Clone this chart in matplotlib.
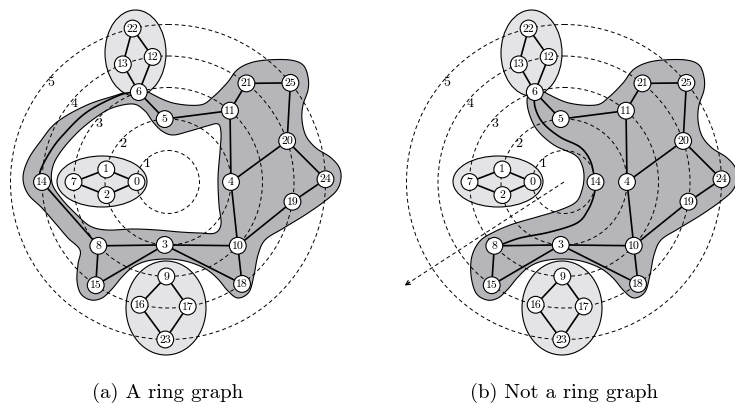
import numpy as np
import matplotlib
matplotlib.use("Agg")
import matplotlib.pyplot as plt
from matplotlib.patches import Circle, Ellipse, PathPatch
from matplotlib.path import Path

W, H = 735, 418

# ---------------- data ----------------
ring_levels = [1, 2, 3, 4, 5]
ring_radius = 31.5
panel_centers = {"a": (168.0, 182.0), "b": (564.0, 182.0)}
captions = {"a": "(a) A ring graph", "b": "(b) Not a ring graph"}

# node -> (ring, angle in degrees, counter-clockwise from east)
node_ring = [1, 2, 2, 2, 2, 2, 3, 3, 3, 3, 3, 3, 4, 4, 4, 4, 4, 4, 4, 4, 4, 4, 5, 5, 5, 5]
node_angle = [180, 168.5, 192, 267, 0, 93, 108, 180, 222.5, 269, 317.6, 49, 97, 111,
              180, 235, 257, 279, 306, 351, 19, 51.5, 103, 269, 1, 39]
# in panel (b) node 14 sits on ring 1
panel_b_override = {14: (1, 0.0)}

straight_edges = [(22, 13), (22, 12), (13, 6), (12, 6), (6, 5), (5, 11), (11, 21), (21, 25),
                  (25, 20), (20, 4), (20, 24), (24, 19), (19, 10), (11, 4), (4, 10), (10, 3),
                  (10, 18), (3, 8), (3, 18), (3, 15), (8, 15), (7, 1), (7, 2), (1, 0), (2, 0),
                  (9, 16), (9, 17), (16, 23), (17, 23)]
# curved edges: (u, v, waypoints relative to the panel centre)
curved_edges = {
    "a": [(6, 14, [(-48, -87), (-81, -70), (-105, -47), (-118, -30), (-128, -10)]),
          (14, 8, [])],
    "b": [(6, 14, [(-29, -75), (-21, -59), (-4, -45), (16, -35), (26, -22), (30, -7)]),
          (14, 8, [(30, 13), (24, 28), (13, 41), (-14, 50), (-44, 56), (-64, 63)])],
}
# ellipses (relative centre, semi axes)
light_groups = [((-32.5, -129), 30.5, 43), ((-66, -0.5), 45, 25.5), ((-2, 126), 40, 47)]
arrow_b = (213.0, 190.0)  # angle, length
label_angle = 140.0

# ---------------- shaded-region outlines (panel (a) pixel frame) ----------------
OUTLINE_COMMON = [(140, 86), (150, 93), (173, 103), (200, 105), (213, 97), (227, 83), (237, 70),
                  (250, 63), (267, 60), (290, 60), (303, 65), (308, 77), (308, 90), (303, 105),
                  (302, 120), (306, 136), (316, 148), (330, 157), (339, 167), (341, 178),
                  (337, 190), (325, 201), (305, 215), (282, 229), (265, 240), (258, 255),
                  (254, 275), (249, 292), (238, 298), (228, 291), (217, 278), (204, 268),
                  (185, 261), (166, 259), (147, 261), (133, 267), (122, 277), (112, 289),
                  (102, 298), (91, 300)]
OUTLINE_TAIL = {
    "a": [(81, 294), (77, 281), (78, 264), (80, 250), (68, 238), (56, 224), (42, 208),
          (28, 194), (23, 178), (28, 160), (40, 142), (57, 122), (87, 105), (117, 95), (131, 90)],
    "b": [(80, 293), (75, 275), (76, 256), (84, 241), (98, 232), (117, 224),
          (141, 217), (164, 210), (180, 202), (186, 190), (188, 177), (186, 165), (179, 155),
          (158, 145), (142, 131), (134, 116), (131, 101), (134, 90)],
}
HOLE_A = [(112, 108), (133, 104), (145, 111), (153, 122), (162, 131), (173, 135), (190, 131),
          (207, 126), (218, 124), (221, 133), (220, 152), (218, 178), (219, 205), (221, 224),
          (215, 233), (200, 233), (180, 232), (157, 230), (133, 229), (107, 230), (90, 226),
          (75, 213), (61, 198), (52, 183), (53, 166), (62, 150), (78, 132), (95, 118)]

# ---------------- styles ----------------
DARK = "#b6b6ba"
LIGHT = "#e4e4e6"
NODE_R = 8.4
FONT = ["cmr10", "DejaVu Serif"]
plt.rcParams["axes.formatter.use_mathtext"] = True


def node_pos(panel, i):
    cx, cy = panel_centers[panel]
    ring, ang = node_ring[i], node_angle[i]
    if panel == "b" and i in panel_b_override:
        ring, ang = panel_b_override[i]
    a = np.deg2rad(ang)
    r = ring * ring_radius
    return np.array([cx + r * np.cos(a), cy - r * np.sin(a)])


def cr_segment(p0, p1, p2, p3, n):
    out = []
    for t in np.linspace(0, 1, n, endpoint=False):
        out.append(0.5 * (2 * p1 + (-p0 + p2) * t + (2 * p0 - 5 * p1 + 4 * p2 - p3) * t ** 2
                          + (-p0 + 3 * p1 - 3 * p2 + p3) * t ** 3))
    return out


def catmull(pts, n=16):
    pts = np.asarray(pts, float)
    if len(pts) == 2:
        t = np.linspace(0, 1, n)[:, None]
        return pts[0] * (1 - t) + pts[1] * t
    ext = np.vstack([2 * pts[0] - pts[1], pts, 2 * pts[-1] - pts[-2]])
    out = []
    for i in range(1, len(ext) - 2):
        out += cr_segment(ext[i - 1], ext[i], ext[i + 1], ext[i + 2], n)
    out.append(pts[-1])
    return np.array(out)


def closed_catmull(pts, n=10):
    P = np.asarray(pts, float)
    N = len(P)
    out = []
    for i in range(N):
        out += cr_segment(P[i - 1], P[i], P[(i + 1) % N], P[(i + 2) % N], n)
    return np.array(out)


def signed_area(p):
    x, y = p[:, 0], p[:, 1]
    return 0.5 * np.sum(x * np.roll(y, -1) - np.roll(x, -1) * y)


def curve_points(panel, u, v, way):
    c = np.array(panel_centers[panel])
    pts = [node_pos(panel, u)] + [c + np.array(w) for w in way] + [node_pos(panel, v)]
    return catmull(pts)


fig = plt.figure(figsize=(W / 100, H / 100), dpi=100)
ax = fig.add_axes([0, 0, 1, 1])
ax.set_xlim(0, W)
ax.set_ylim(H, 0)
ax.set_aspect("equal")
ax.axis("off")

for panel in ["a", "b"]:
    cx, cy = panel_centers[panel]
    shift = np.array([cx - panel_centers["a"][0], 0.0])
    c = np.array([cx, cy])

    curves = [(u, v, curve_points(panel, u, v, way)) for (u, v, way) in curved_edges[panel]]
    curve_keys = {(u, v) for u, v, _ in curves}

    # ---- shaded region ----
    outer = closed_catmull(np.array(OUTLINE_COMMON + OUTLINE_TAIL[panel], float)) + shift
    rings = [outer]
    if panel == "a":
        hole = closed_catmull(np.array(HOLE_A, float))
        if np.sign(signed_area(hole)) == np.sign(signed_area(outer)):
            hole = hole[::-1]
        rings.append(hole)
    verts, codes = [], []
    for r in rings:
        verts += list(r) + [r[0]]
        codes += [Path.MOVETO] + [Path.LINETO] * (len(r) - 1) + [Path.CLOSEPOLY]
    ax.add_patch(PathPatch(Path(np.array(verts), codes), facecolor=DARK, edgecolor="k",
                           lw=0.8, zorder=1))

    # ---- light groups ----
    for (gx, gy), sa, sb in light_groups:
        ax.add_patch(Ellipse((cx + gx, cy + gy), 2 * sa, 2 * sb, facecolor=LIGHT,
                             edgecolor="k", lw=0.8, zorder=2))

    # ---- dashed rings and labels ----
    for k in ring_levels:
        ax.add_patch(Circle((cx, cy), k * ring_radius, fill=False, ls=(0, (4, 3)),
                            lw=0.7, color="k", zorder=3))
        a = np.deg2rad(label_angle)
        rr = k * ring_radius - 4
        ax.text(cx + rr * np.cos(a), cy - rr * np.sin(a), str(k), ha="center", va="center",
                fontsize=10, family=FONT, zorder=6)

    # ---- edges ----
    for u, v in straight_edges:
        if (u, v) in curve_keys:
            continue
        p, q = node_pos(panel, u), node_pos(panel, v)
        ax.plot([p[0], q[0]], [p[1], q[1]], color="k", lw=1.2, zorder=4,
                solid_capstyle="round")
    for u, v, pts in curves:
        ax.plot(pts[:, 0], pts[:, 1], color="k", lw=1.2, zorder=4)

    # ---- nodes ----
    for i in range(len(node_ring)):
        p = node_pos(panel, i)
        ax.add_patch(Circle(p, NODE_R, facecolor="white", edgecolor="k", lw=0.8, zorder=5))
        ax.text(p[0], p[1] + 0.3, str(i), ha="center", va="center", fontsize=8.5,
                family=FONT, zorder=6)

    ax.text(cx, 393, captions[panel], ha="center", va="center", fontsize=15,
            family=FONT, zorder=6)

    if panel == "b":
        ang, L = arrow_b
        a = np.deg2rad(ang)
        end = (cx + L * np.cos(a), cy - L * np.sin(a))
        ax.plot([cx, end[0]], [cy, end[1]], color="k", lw=0.7, ls=(0, (4, 3)), zorder=6)
        ax.annotate("", xy=end, xytext=(end[0] + 6 * np.cos(a + np.pi), end[1] - 6 * np.sin(a + np.pi)),
                    arrowprops=dict(arrowstyle="->", lw=0.8, color="k",
                                    shrinkA=0, shrinkB=0, mutation_scale=8), zorder=6)

fig.savefig("out.png", dpi=100)
